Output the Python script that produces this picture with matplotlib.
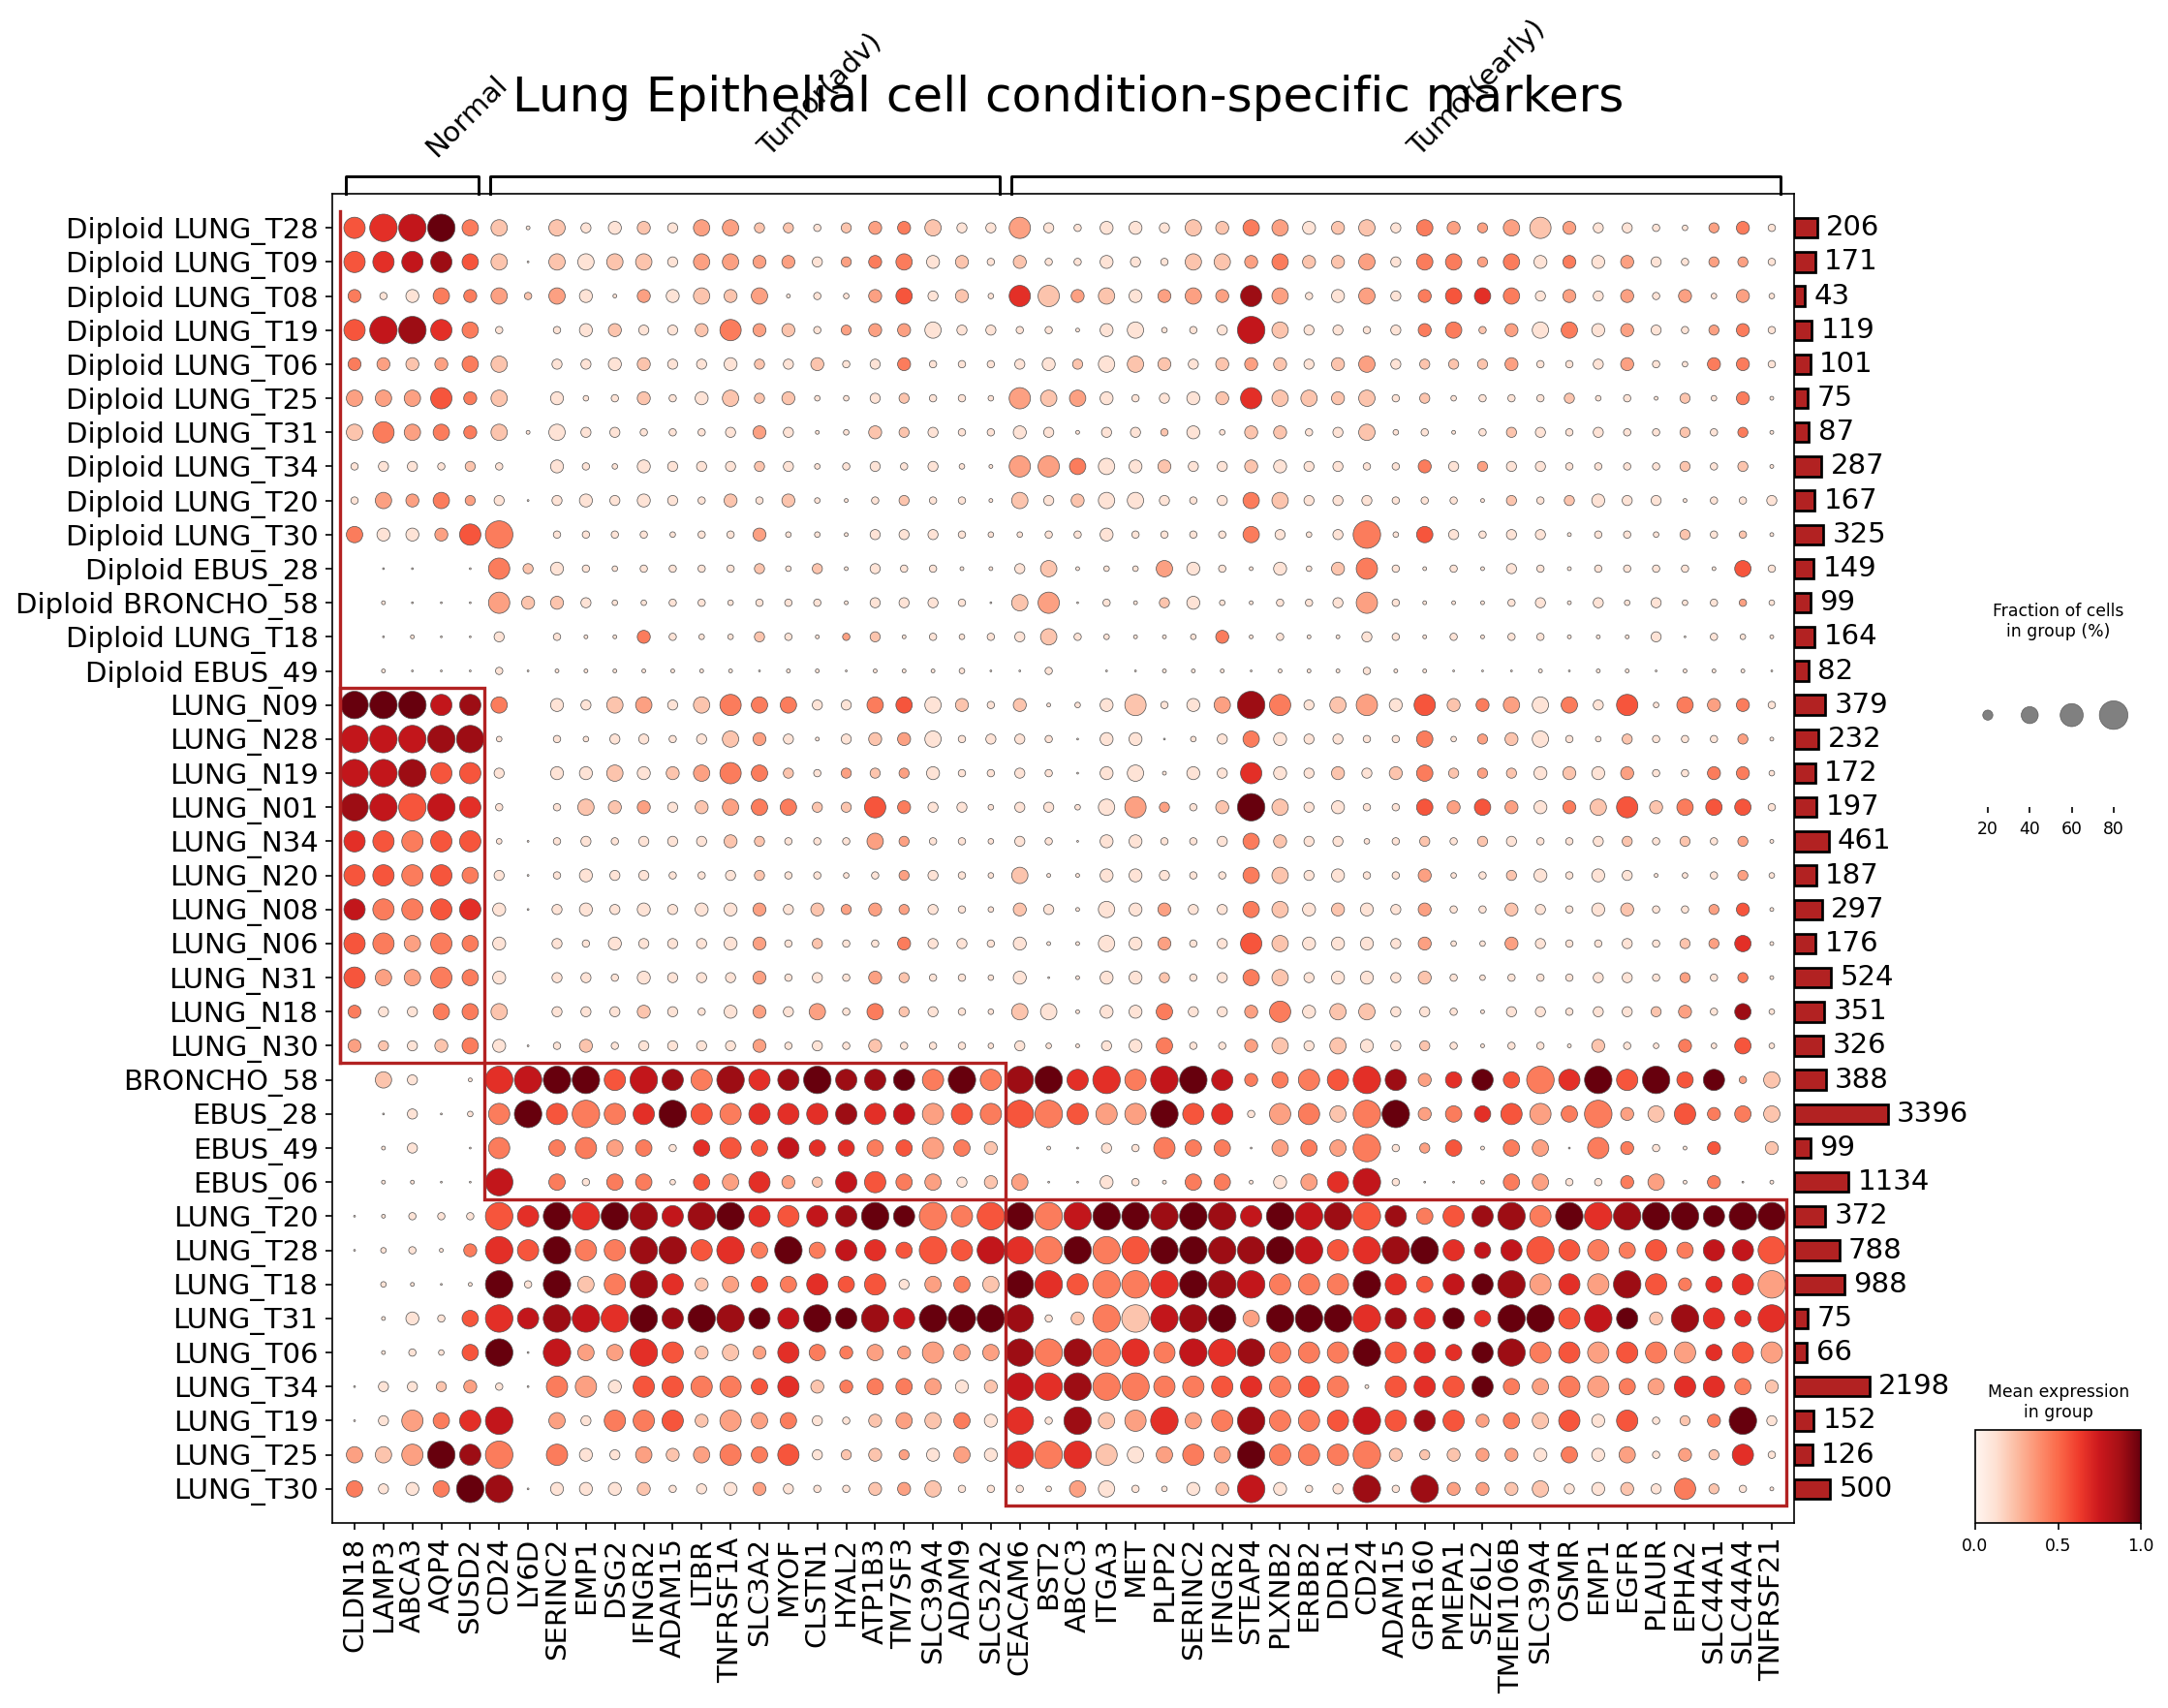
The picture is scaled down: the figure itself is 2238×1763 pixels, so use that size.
import numpy as np
import matplotlib
matplotlib.use('Agg')
import matplotlib.pyplot as plt
from matplotlib.patches import Rectangle
from matplotlib.colors import Normalize
from matplotlib.cm import ScalarMappable

genes = ['CLDN18', 'LAMP3', 'ABCA3', 'AQP4', 'SUSD2',
         'CD24', 'LY6D', 'SERINC2', 'EMP1', 'DSG2', 'IFNGR2', 'ADAM15', 'LTBR', 'TNFRSF1A',
         'SLC3A2', 'MYOF', 'CLSTN1', 'HYAL2', 'ATP1B3', 'TM7SF3', 'SLC39A4', 'ADAM9', 'SLC52A2',
         'CEACAM6', 'BST2', 'ABCC3', 'ITGA3', 'MET', 'PLPP2', 'SERINC2', 'IFNGR2', 'STEAP4',
         'PLXNB2', 'ERBB2', 'DDR1', 'CD24', 'ADAM15', 'GPR160', 'PMEPA1', 'SEZ6L2', 'TMEM106B',
         'SLC39A4', 'OSMR', 'EMP1', 'EGFR', 'PLAUR', 'EPHA2', 'SLC44A1', 'SLC44A4', 'TNFRSF21']

groups = ['Diploid LUNG_T28', 'Diploid LUNG_T09', 'Diploid LUNG_T08', 'Diploid LUNG_T19',
          'Diploid LUNG_T06', 'Diploid LUNG_T25', 'Diploid LUNG_T31', 'Diploid LUNG_T34',
          'Diploid LUNG_T20', 'Diploid LUNG_T30', 'Diploid EBUS_28', 'Diploid BRONCHO_58',
          'Diploid LUNG_T18', 'Diploid EBUS_49', 'LUNG_N09', 'LUNG_N28', 'LUNG_N19', 'LUNG_N01',
          'LUNG_N34', 'LUNG_N20', 'LUNG_N08', 'LUNG_N06', 'LUNG_N31', 'LUNG_N18', 'LUNG_N30',
          'BRONCHO_58', 'EBUS_28', 'EBUS_49', 'EBUS_06', 'LUNG_T20', 'LUNG_T28', 'LUNG_T18',
          'LUNG_T31', 'LUNG_T06', 'LUNG_T34', 'LUNG_T19', 'LUNG_T25', 'LUNG_T30']

counts = [206, 171, 43, 119, 101, 75, 87, 287, 167, 325, 149, 99, 164, 82, 379, 232, 172, 197,
          461, 187, 297, 176, 524, 351, 326, 388, 3396, 99, 1134, 372, 788, 988, 75, 66, 2198,
          152, 126, 500]

group_labels = ['Normal', 'Tumor(adv)', 'Tumor(early)']
group_spans = [(0, 4), (5, 22), (23, 49)]

# mean expression, one digit per gene: value = digit / 9
expr_codes = [
    "56794 212112133221234211 311111224312214333231111341",
    "56785 212122133331344121 211111223422314434141311331",
    "41144 323113122311135121 623213338311314564131313131",
    "57864 101121124321333111 111111117211114423141311341",
    "43234 201112111212114111 112122123212312223111311441",
    "33354 201112112221112111 323111126222212111121112141",
    "24344 211111111311122111 111112112211211112111112141",
    "11112 101111111211111111 334112112111114131111112121",
    "13343 111111112121112111 212111114211111112121111111",
    "41135 401111111311111111 111111114111415111111112121",
    "01101 421111111212111111 121113111112411111111111151",
    "01111 322111111111111111 231112111111311111111111131",
    "01111 101114111211321111 121111141111111111111111111",
    "01111 111111111111111111 110111111111111111111111111",
    "99978 401123124441145121 211121138412315243141514341",
    "77788 101111112311123111 111111114111114132111211131",
    "77855 101121234421323111 111111116112124232121311441",
    "87576 101223123442254111 111133129211115353142524551",
    "65455 111111112211133111 111111114211112121111212131",
    "55454 111111111211113111 211111114211113112111111131",
    "74456 111111111312333111 211113114212113112111211351",
    "54344 101111111312114111 111113115211113113111112361",
    "53344 101111111311132111 111112114211112111111113141",
    "41144 201112111313142111 211114113412211111111123181",
    "32124 111211111311121111 111114113212112111112114151",
    "02101 679957848689889494 896647974445683695469595932",
    "01111 495446954666867354 545339561342493465344325442",
    "01101 404434165576645342 011114441343413514314411502",
    "01111 704144153632754312 311111441136711114311431411",
    "11111 569698789657899445 947998987978584588496899999",
    "11114 659448856494765557 649459988975689677554454775",
    "01111 919248623546551342 965446987444965798363854663",
    "01115 678769898979987999 812427893999686969957928666",
    "01115 917336522364433333 848464768444956698453543653",
    "11123 114315544562444312 768444456454156594343436642",
    "11346 703144523341123241 618236348445758534251512491",
    "32398 404113234451223131 646213439444422233141313261",
    "41149 811112111311123211 113111127111818332211214211",
]

# fraction of cells, one digit per gene, looked up in frac_table (percent)
frac_codes = [
    "89997 727566577554566755 854665767766757657865543564",
    "88887 717777577665567664 644654776766757757666654554",
    "64676 747626676724367563 886766768746756777565646363",
    "89987 404665568664566755 442673459755456746776654564",
    "66667 705566556556456444 565776566656755556445643664",
    "77786 706346467563355443 877645668776745344453425362",
    "78776 727554445652365544 652554636645734245545445452",
    "45545 406436555553454532 887766556655446555544445452",
    "47675 515656546463245442 756775457755544425456552445",
    "76668 904444344633255543 344644447535937545524435442",
    "01101 856434444535254422 572337642636842425424444274",
    "02111 866533443444255541 781425632445842224525353443",
    "01211 504226433542452434 574322362422542424422251432",
    "02111 412222222122122231 140112221222422111212212221",
    "99988 706577578775577764 623684679857868667775837664",
    "99999 304355457652566745 541661357655447356743544452",
    "99988 506676678754555644 541672658656567555666644663",
    "99998 404766567775586553 553785469756447676667867774",
    "88888 314545556544475443 541664457655345455445545452",
    "88887 514655445544345543 722665447756446345646523453",
    "88888 615656566656565543 652766557766656446546644562",
    "88787 605465556645446554 622766458766656336544545572",
    "87787 605546555645465443 612665457756656434445545452",
    "65577 705556546657475543 772667556867755425545556473",
    "65567 614645555645464443 532567446757655424426436373",
    "07502 999989889889888898 998989986788986787989897847",
    "01513 898988988888888888 998889884887996778879678677",
    "02501 807877478787777876 021548771777945727718642606",
    "02211 907477377865887756 711642772678941127744672612",
    "12444 989999899888898989 999999998999987889899999899",
    "13426 989889989797887989 999999999998999878988787889",
    "03212 949789867778785777 998999999888987889888986789",
    "02647 989999899889898999 946999997999988879989869879",
    "02437 919779867687676877 999998999888988789888888788",
    "15556 418868888786677766 999998888888288887788778876",
    "15878 907588868775467776 949789789888988867786845695",
    "77898 908657678785565676 999877879888965666676746584",
    "75679 916666456654466744 437743669645949666756658542",
]
frac_table = [0, 2, 5.5, 9, 13, 20, 28, 38, 54, 76]

size_legend_values = [20, 40, 60, 80]

# highlighted blocks: (first gene, last gene, first row, last row)
highlight_boxes = [(0, 4, 14, 24), (5, 22, 25, 28), (23, 49, 29, 37)]


def decode(rows, f):
    out = []
    for s in rows:
        s = s.replace(' ', '')
        if len(s) != len(genes):
            raise ValueError('bad row length %d' % len(s))
        out.append([f(int(ch)) for ch in s])
    return np.array(out, dtype=float)


expr = decode(expr_codes, lambda d: d / 9.0)
frac = decode(frac_codes, lambda d: frac_table[d])


def dot_size(pct):
    return (np.clip(np.asarray(pct, dtype=float), 0, 80) / 80.0) ** 1.5 * 200.0


W, H, DPI = 2238, 1763, 150
fig = plt.figure(figsize=(W / DPI, H / DPI), dpi=DPI)


def px_axes(x0, y0, x1, y1):
    return fig.add_axes([x0 / W, 1 - y1 / H, (x1 - x0) / W, (y1 - y0) / H])


red = '#b22222'

# main dot plot
ax = px_axes(343, 200, 1852, 1572)
xx, yy = np.meshgrid(np.arange(len(genes)), np.arange(len(groups)))
mask = frac > 0
ax.scatter(xx[mask], yy[mask], s=dot_size(frac[mask]), c=expr[mask], cmap='Reds',
           vmin=0, vmax=1, edgecolors='#555555', linewidths=0.35, zorder=3)
ax.set_xlim(-0.77, len(genes) - 1 + 0.77)
ax.set_ylim(len(groups), -1)
ax.set_xticks(np.arange(len(genes)))
ax.set_xticklabels(genes, rotation=90, fontsize=14)
ax.set_yticks(np.arange(len(groups)))
ax.set_yticklabels(groups, fontsize=14)

for g0, g1, r0, r1 in highlight_boxes:
    ax.add_patch(Rectangle((g0 - 0.5, r0 - 0.5), g1 - g0 + 1, r1 - r0 + 1, fill=False,
                           edgecolor=red, lw=1.6, zorder=4))
ax.plot([-0.5, -0.5], [-0.5, 24.5], color=red, lw=1.6, zorder=4)

# gene group brackets
axg = px_axes(343, 120, 1852, 200)
axg.set_xlim(ax.get_xlim())
axg.set_ylim(0, 1)
axg.axis('off')
for lab, (g0, g1) in zip(group_labels, group_spans):
    x0, x1 = g0 - 0.3, g1 + 0.3
    axg.plot([x0, x0, x1, x1], [0, 0.225, 0.225, 0], color='black', lw=1.4, clip_on=False)
    axg.text((g0 + g1) / 2 + 0.3, 0.41, lab, rotation=45, ha='left', va='bottom', fontsize=14)

fig.text(1103 / W, 1 - 115 / H, 'Lung Epithelial cell condition-specific markers',
         ha='center', va='baseline', fontsize=24)

# totals
axb = px_axes(1852, 200, 1992, 1572)
axb.set_xscale('function', functions=(lambda v: np.sqrt(np.clip(v, 0, None)), np.square))
axb.barh(np.arange(len(groups)), counts, height=0.58, color=red, edgecolor='black', lw=1.3)
for i, c in enumerate(counts):
    axb.annotate(str(c), xy=(c, i), xytext=(4.5, 0), textcoords='offset points',
                 va='center', ha='left', fontsize=14)
axb.set_xlim(0, 7100)
axb.set_ylim(len(groups), -1)
axb.axis('off')

# size legend
axs = px_axes(2039, 680, 2210, 833)
axs.scatter(np.arange(len(size_legend_values)), [0.62] * len(size_legend_values),
            s=dot_size(size_legend_values), color='gray', edgecolors='#555555', linewidths=0.3)
axs.set_xlim(-0.3, 3.65)
axs.set_ylim(0, 1)
axs.set_xticks(np.arange(len(size_legend_values)))
axs.set_xticklabels([str(v) for v in size_legend_values], fontsize=8.3)
axs.set_yticks([])
axs.tick_params(axis='x', length=3)
for sp in axs.spines.values():
    sp.set_visible(False)
fig.text(2124.5 / W, 1 - 622 / H, 'Fraction of cells\nin group (%)', ha='center', va='top',
         fontsize=8.3)

# colour bar
axc = px_axes(2039, 1476, 2210, 1572)
cb = fig.colorbar(ScalarMappable(norm=Normalize(0, 1), cmap='Reds'), cax=axc,
                  orientation='horizontal')
cb.set_ticks([0, 0.5, 1.0])
cb.ax.tick_params(labelsize=8.3)
fig.text(2124.7 / W, 1 - 1428 / H, 'Mean expression\nin group', ha='center', va='top',
         fontsize=8.3)

fig.savefig('out.png', dpi=DPI)
